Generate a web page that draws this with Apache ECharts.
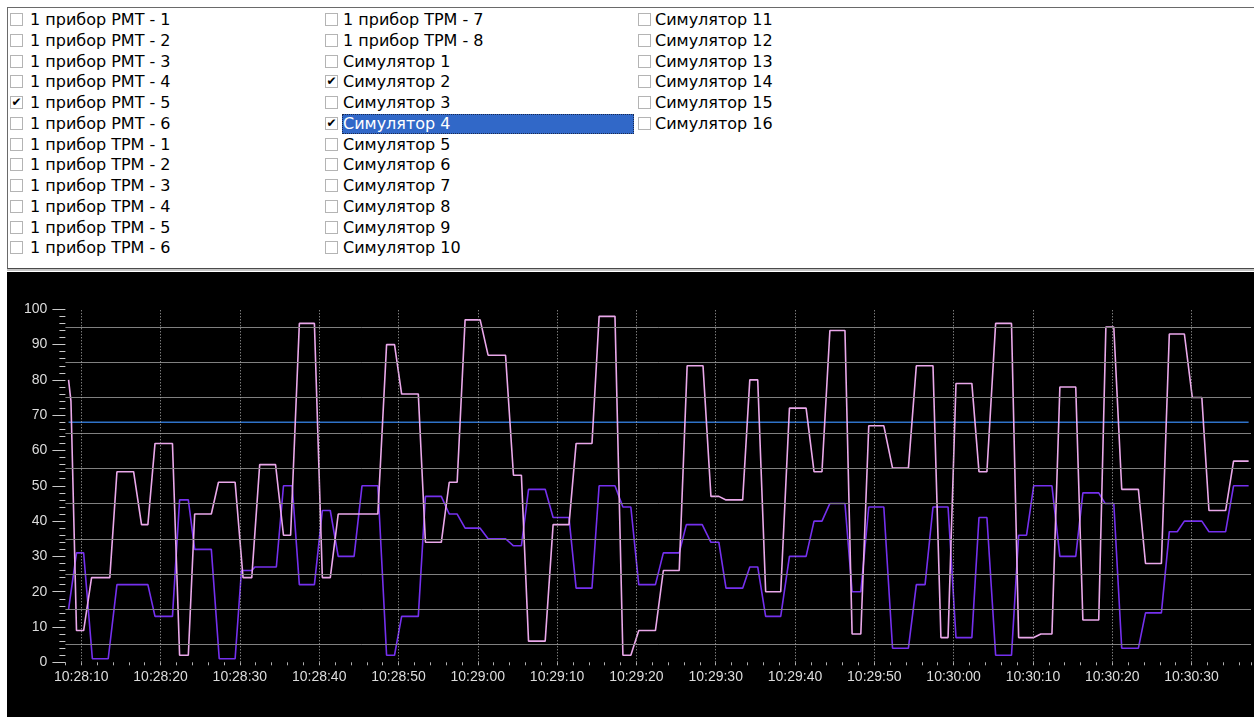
<!DOCTYPE html>
<html>
<head>
<meta charset="utf-8">
<script src="https://cdn.jsdelivr.net/npm/echarts@6/dist/echarts.min.js"></script>
<style>
  html, body { margin: 0; padding: 0; width: 1254px; height: 717px; overflow: hidden; background: #fff; }
  #panel {
    position: absolute; left: 7px; top: 7px; width: 1246px; height: 260px;
    border-top: 1px solid #6a6a6a; border-left: 1px solid #6a6a6a; border-bottom: 1px solid #4a4a4a;
    background: #fff;
  }
  #sep { position: absolute; left: 7px; top: 269px; width: 1247px; height: 2px; background: #c4c4c4; }
  .row {
    position: absolute; height: 20px; line-height: 20px; white-space: nowrap;
    font-family: "DejaVu Sans"; font-size: 16px; color: #000;
  }
  .row.sel { background: #3168c8; color: #fff; outline: 1px dotted #1a2a50; outline-offset: -1px; }
  .box {
    position: absolute; width: 11px; height: 11px; border: 1px solid #b4b4b4; background: #fff;
    font-family: "DejaVu Sans"; font-size: 12px; line-height: 11px; text-align: center; color: #000;
  }
  #chart { position: absolute; left: 7px; top: 272px; width: 1247px; height: 445px; background: #000; }
</style>
</head>
<body>
<div id="panel"></div>
<div id="sep"></div>
<div id="chart"></div>
<script>
// список каналов
const column1 = ["1 прибор РМТ - 1","1 прибор РМТ - 2","1 прибор РМТ - 3","1 прибор РМТ - 4","1 прибор РМТ - 5","1 прибор РМТ - 6",
  "1 прибор ТРМ - 1","1 прибор ТРМ - 2","1 прибор ТРМ - 3","1 прибор ТРМ - 4","1 прибор ТРМ - 5","1 прибор ТРМ - 6"];
const column2 = ["1 прибор ТРМ - 7","1 прибор ТРМ - 8","Симулятор 1","Симулятор 2","Симулятор 3","Симулятор 4",
  "Симулятор 5","Симулятор 6","Симулятор 7","Симулятор 8","Симулятор 9","Симулятор 10"];
const column3 = ["Симулятор 11","Симулятор 12","Симулятор 13","Симулятор 14","Симулятор 15","Симулятор 16"];
const checkedNames = ["1 прибор РМТ - 5","Симулятор 2","Симулятор 4"];
const selectedName = "Симулятор 4";

// время в секундах от 10:28:00
const startClock = [10, 28, 0];
const pinkTimes = [8.4,8.7,9.4,10.3,11.3,13.6,14.5,16.6,17.6,18.4,19.3,21.5,22.4,23.5,24.3,26.4,27.3,29.4,30.4,31.5,
  32.5,34.5,35.5,36.4,37.5,39.4,40.4,41.4,42.4,47.4,48.5,49.5,50.4,52.5,53.4,55.4,56.4,57.4,58.4,60.3,
  61.3,63.5,64.5,65.5,66.4,68.5,69.5,71.5,72.4,74.4,75.3,77.3,78.3,79.3,80.3,82.4,83.4,85.4,86.4,88.4,
  89.4,90.4,91.3,93.4,94.3,95.3,96.3,98.2,99.3,101.4,102.4,103.4,104.4,106.3,107.2,108.3,109.3,111.2,112.3,114.3,
  115.3,117.4,118.4,119.3,120.3,122.3,123.2,124.2,125.3,127.3,128.2,130.1,131.0,132.4,133.4,135.4,136.3,138.3,139.2,140.2,
  141.2,143.3,144.2,146.2,147.2,149.1,150.1,151.3,152.2,154.3,155.3,157.2];
const pinkValues = [80,74,9,9,24,24,54,54,39,39,62,62,2,2,42,42,51,51,24,24,
  56,56,36,36,96,96,24,24,42,42,90,90,76,76,34,34,51,51,97,97,
  87,87,53,53,6,6,39,39,62,62,98,98,2,2,9,9,26,26,84,84,
  47,47,46,46,80,80,20,20,72,72,54,54,94,94,8,8,67,67,55,55,
  84,84,7,7,79,79,54,54,96,96,7,7,8,8,78,78,12,12,95,95,
  49,49,28,28,93,93,75,75,43,43,57,57];
const purpleTimes = [8.4,9.4,10.3,11.4,13.4,14.5,18.4,19.3,21.5,22.4,23.5,24.3,26.4,27.4,29.4,30.2,31.5,31.9,34.6,35.5,
  36.6,37.5,39.4,40.4,41.4,42.4,44.4,45.4,47.4,48.5,49.5,50.4,52.5,53.4,55.4,56.4,57.4,58.4,60.3,61.3,
  63.5,64.5,65.5,66.4,68.5,69.5,71.5,72.4,74.4,75.3,77.3,78.3,79.3,80.3,82.4,83.4,85.4,86.3,88.3,89.4,
  90.4,91.3,93.4,94.3,95.3,96.3,98.2,99.3,101.4,102.4,103.4,104.4,106.3,107.2,108.3,109.3,111.2,112.3,114.3,115.3,
  116.4,117.4,119.3,120.3,122.3,123.2,124.2,125.3,127.3,128.2,129.2,130.1,132.4,133.4,135.4,136.3,138.3,139.1,140.2,141.2,
  143.3,144.2,146.2,147.2,148.2,149.1,151.3,152.2,154.3,155.3,157.2];
const purpleValues = [15,31,31,1,1,22,22,13,13,46,46,32,32,1,1,26,26,27,27,50,
  50,22,22,43,43,30,30,50,50,2,2,13,13,47,47,42,42,38,38,35,35,
  33,33,49,49,41,41,21,21,50,50,44,44,22,22,31,31,39,39,34,
  34,21,21,27,27,13,13,30,30,40,40,45,45,20,20,44,44,4,4,22,
  22,44,44,7,7,41,41,2,2,36,36,50,50,30,30,48,48,45,45,4,
  4,14,14,37,37,40,40,37,37,50,50];
const blueTimes = [8.4, 157.2];
const blueValues = [68, 68];

const gridLevels = [5,15,25,35,45,55,65,75,85,95];
const majorTimes = [10,20,30,40,50,60,70,80,90,100,110,120,130,140,150];

// панель с галочками
function addColumn(names, boxLeft, textLeft) {
  names.forEach((name, i) => {
    const top = 10 + i * 20.75;
    const box = document.createElement('span');
    box.className = 'box';
    box.style.left = boxLeft + 'px';
    box.style.top = (top + 3) + 'px';
    box.textContent = checkedNames.includes(name) ? '✔' : '';
    document.body.appendChild(box);
    const row = document.createElement('div');
    row.className = 'row' + (name === selectedName ? ' sel' : '');
    row.style.left = textLeft + 'px';
    row.style.top = top + 'px';
    row.textContent = name;
    if (name === selectedName) { row.style.width = '291px'; row.style.paddingLeft = '1px'; row.style.left = (textLeft - 1) + 'px'; }
    document.body.appendChild(row);
  });
}
addColumn(column1, 10, 30);
addColumn(column2, 325, 343);
addColumn(column3, 638, 655);

function clock(sec) {
  let total = startClock[0] * 3600 + startClock[1] * 60 + startClock[2] + Math.round(sec);
  const h = Math.floor(total / 3600), m = Math.floor(total / 60) % 60, s = total % 60;
  const p = (n) => (n < 10 ? '0' : '') + n;
  return h + ':' + p(m) + ':' + p(s);
}
const zip = (ts, vs) => ts.map((t, i) => [t, vs[i]]);

let chartInstance = echarts.init(document.getElementById('chart'));
const option = {
  backgroundColor: '#000',
  animation: false,
  grid: { left: 58.4, right: 1.6, top: 37.3, bottom: 54.7 },
  xAxis: {
    type: 'value',
    min: 8,
    max: 157.5,
    interval: 2,
    axisLine: { show: false },
    axisTick: { show: true, length: 3, lineStyle: { color: '#b0b0b0', width: 1 } },
    axisLabel: {
      color: '#dcdcdc',
      fontFamily: 'Liberation Sans',
      fontSize: 14,
      margin: 8,
      formatter: (v) => (Math.abs(v % 10) < 1e-6 && v >= 10 && v <= 150 ? clock(v) : '')
    },
    splitLine: { show: false }
  },
  yAxis: {
    type: 'value',
    min: 0,
    max: 100,
    interval: 10,
    axisLine: { show: false },
    axisTick: { show: true, length: 13, lineStyle: { color: '#c8c8c8' } },
    minorTick: { show: true, splitNumber: 5, length: 6, lineStyle: { color: '#c8c8c8' } },
    axisLabel: { color: '#dcdcdc', fontFamily: 'Liberation Sans', fontSize: 14, margin: 18 },
    splitLine: { show: false }
  },
  series: [
    {
      name: 'Симулятор 2',
      type: 'line',
      clip: false,
      symbol: 'none',
      data: zip(blueTimes, blueValues),
      lineStyle: { color: '#2f72c8', width: 1.6 },
      // горизонтальная сетка
      markLine: {
        silent: true,
        symbol: 'none',
        label: { show: false },
        animation: false,
        lineStyle: { color: '#808080', width: 1, type: 'solid' },
        data: gridLevels.map((v) => ({ yAxis: v }))
      },
      z: 1
    },
    {
      name: 'Симулятор 4',
      type: 'line',
      clip: false,
      symbol: 'none',
      data: zip(purpleTimes, purpleValues),
      lineStyle: { color: '#7530ee', width: 1.6 },
      // вертикальная пунктирная сетка
      markLine: {
        silent: true,
        symbol: 'none',
        label: { show: false },
        animation: false,
        lineStyle: { color: '#b0b0b0', width: 1, type: [1, 2] },
        data: majorTimes.map((t) => ({ xAxis: t }))
      },
      z: 2
    },
    {
      name: '1 прибор РМТ - 5',
      type: 'line',
      symbol: 'none',
      data: zip(pinkTimes, pinkValues),
      lineStyle: { color: '#eaa8ea', width: 1.6 },
      z: 3
    }
  ]
};
chartInstance.setOption(option);
</script>
</body>
</html>
